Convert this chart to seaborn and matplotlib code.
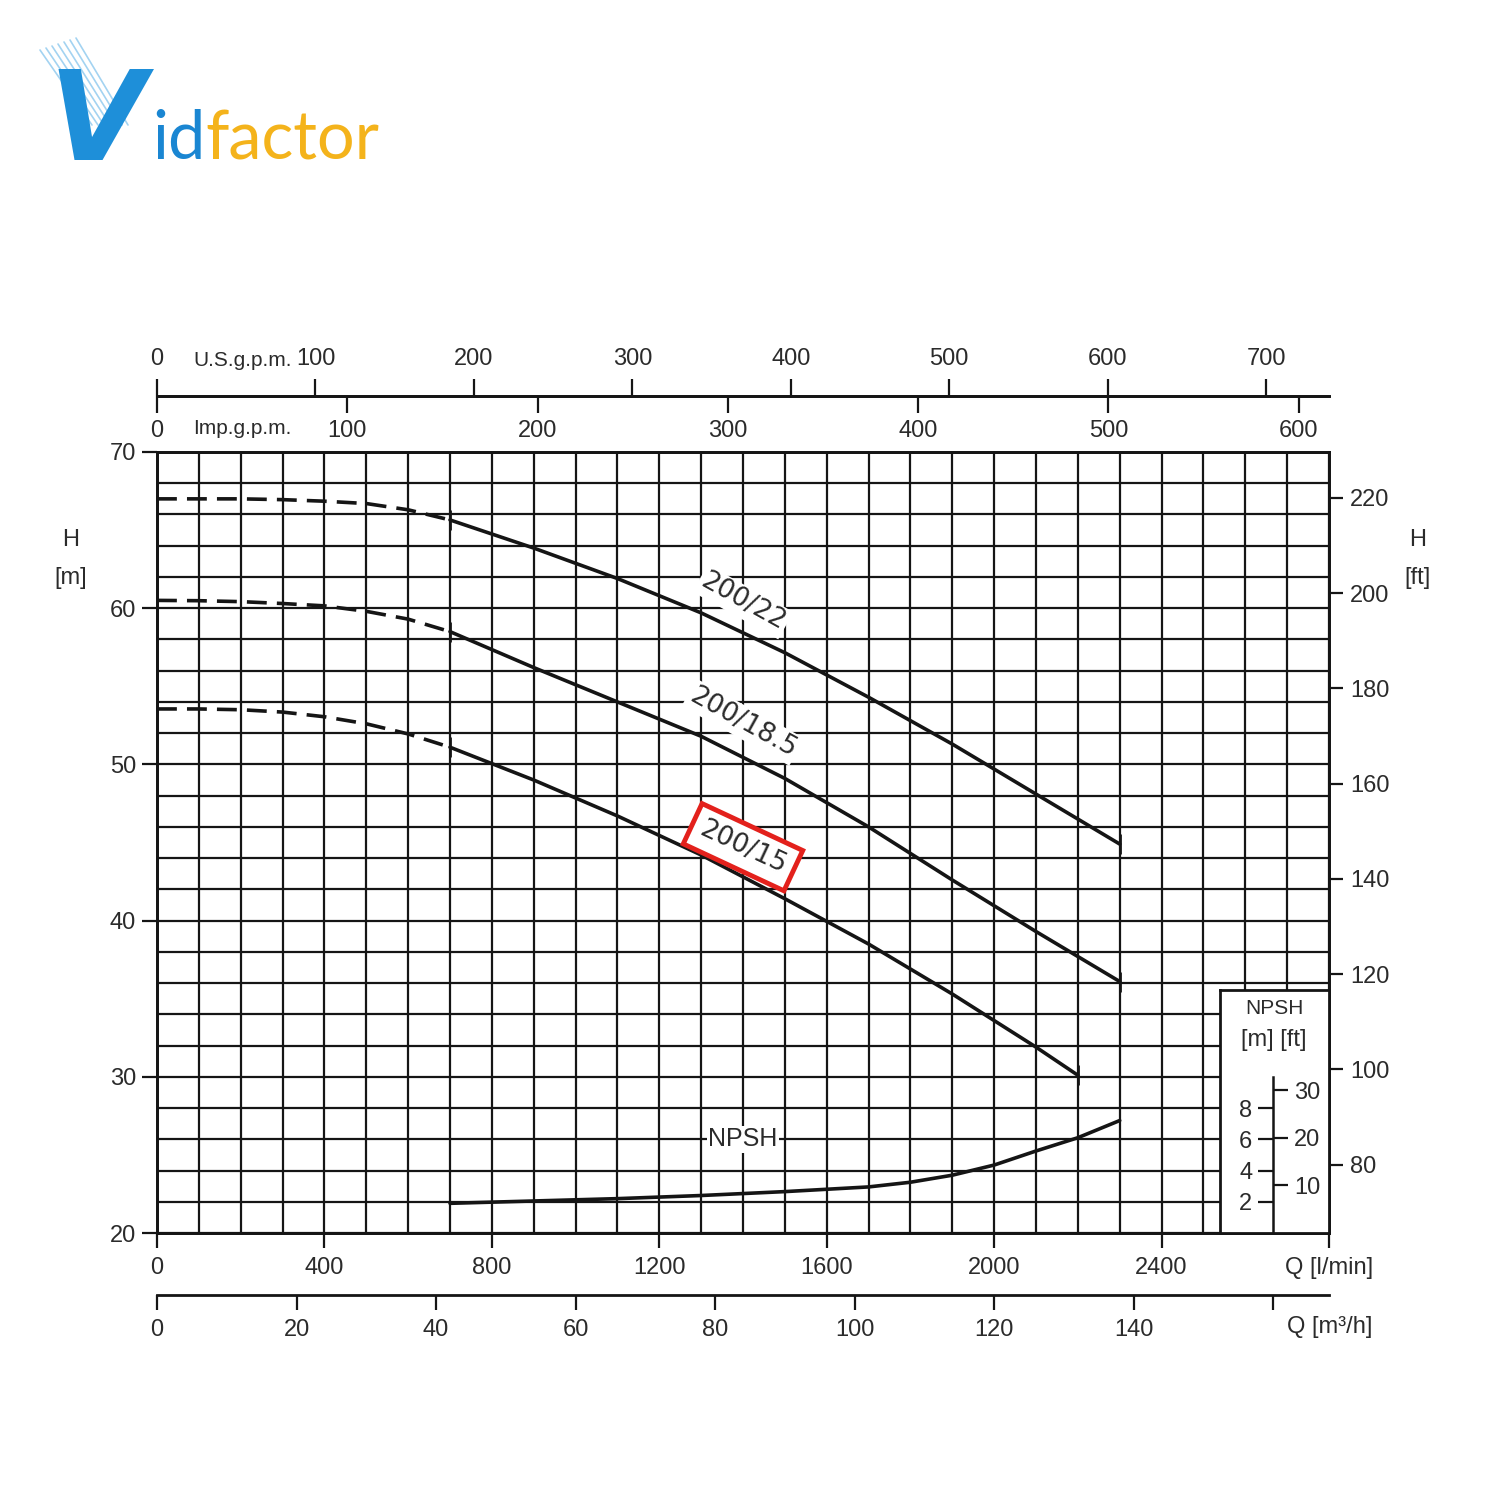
import matplotlib
matplotlib.use('Agg')
import matplotlib.pyplot as plt
import seaborn as sns
from matplotlib.ticker import MultipleLocator
from matplotlib.lines import Line2D

# --- data (flow Q in l/min, head H in m) ---
q_dash = [0, 100, 200, 300, 400, 500, 600, 700]
q_solid = [700, 900, 1100, 1300, 1500, 1700, 1900, 2100, 2300]
q_solid_15 = [700, 900, 1100, 1300, 1500, 1700, 1900, 2100, 2200]

h22_dash = [67.0, 67.0, 67.0, 66.95, 66.85, 66.7, 66.3, 65.65]
h22 = [65.65, 63.85, 61.9, 59.7, 57.15, 54.3, 51.3, 48.1, 44.9]

h185_dash = [60.5, 60.48, 60.42, 60.3, 60.15, 59.8, 59.3, 58.5]
h185 = [58.5, 56.2, 54.0, 51.8, 49.1, 46.0, 42.6, 39.3, 36.1]

h15_dash = [53.55, 53.55, 53.5, 53.35, 53.05, 52.6, 51.95, 51.1]
h15 = [51.1, 49.0, 46.7, 44.2, 41.4, 38.5, 35.3, 31.9, 30.1]

curve_names = ['200/22', '200/18.5', '200/15']
label_q = [1400, 1400, 1400]
label_h = [60.4, 52.7, 44.7]

npsh_q = [700, 900, 1100, 1300, 1500, 1700, 1800, 1900, 2000, 2100, 2200, 2300]
npsh_m = [1.9, 2.05, 2.2, 2.4, 2.65, 2.95, 3.25, 3.7, 4.35, 5.25, 6.1, 7.2]

lmin_ticks = [0, 400, 800, 1200, 1600, 2000, 2400]
m3h_ticks = [0, 20, 40, 60, 80, 100, 120, 140]
usgpm_ticks = [0, 100, 200, 300, 400, 500, 600, 700]
impgpm_ticks = [0, 100, 200, 300, 400, 500, 600]
hm_ticks = [20, 30, 40, 50, 60, 70]
hft_ticks = [80, 100, 120, 140, 160, 180, 200, 220]
npsh_m_ticks = [2, 4, 6, 8]
npsh_ft_ticks = [10, 20, 30]

M2FT = 3.28084
LMIN_PER_M3H = 1000 / 60
LMIN_PER_USGPM = 3.78541
LMIN_PER_IMPGPM = 4.54609

INK = '#151515'
TXT = '#2b2b2b'
FS = 17

sns.set_theme(style='ticks')
plt.rcParams['font.family'] = ['Liberation Sans', 'DejaVu Sans']

fig = plt.figure(figsize=(15, 15), dpi=100)


def fx(px):
    return px / 1500


def fy(py):
    return 1 - py / 1500


# main chart box in pixels
L, R, T, B = 157, 1329, 452, 1233
ax = fig.add_axes([fx(L), fy(B), (R - L) / 1500, (B - T) / 1500])
ax.set_xlim(0, 2800)
ax.set_ylim(20, 70)

# grid every 100 l/min and every 2 m
ax.xaxis.set_minor_locator(MultipleLocator(100))
ax.yaxis.set_minor_locator(MultipleLocator(2))
ax.grid(which='both', color=INK, lw=1.6)
ax.set_axisbelow(True)
ax.tick_params(which='minor', length=0)

ax.set_xticks(lmin_ticks + [2800], labels=[str(t) for t in lmin_ticks] + ['Q [l/min]'])
ax.set_yticks(hm_ticks)
ax.tick_params(axis='x', which='major', direction='out', length=11, width=1.6,
               pad=6, labelsize=FS, color=INK, labelcolor=TXT)
ax.tick_params(axis='y', which='major', direction='out', length=11, width=1.6,
               pad=4, labelsize=FS, color=INK, labelcolor=TXT)
for s in ax.spines.values():
    s.set_color(INK)
    s.set_linewidth(2)

# right axis in feet
ax2 = ax.twinx()
ax2.set_ylim(20 * M2FT, 70 * M2FT)
ax2.set_yticks(hft_ticks)
ax2.tick_params(axis='y', direction='out', length=10, width=1.6, pad=5,
                labelsize=FS, color=INK, labelcolor=TXT)
for s in ax2.spines.values():
    s.set_color(INK)
    s.set_linewidth(2)

# m3/h axis below
sec_m3 = ax.secondary_xaxis(-62 / 781, functions=(lambda q: q / LMIN_PER_M3H,
                                                   lambda m: m * LMIN_PER_M3H))
sec_m3.set_xticks(m3h_ticks + [160], labels=[str(t) for t in m3h_ticks] + [''])
sec_m3.tick_params(direction='out', length=11, width=1.6, pad=6, labelsize=FS,
                   color=INK, labelcolor=TXT)
sec_m3.spines['bottom'].set_linewidth(2)
sec_m3.spines['bottom'].set_color(INK)

# gallon scales on top
top_loc = (B - 396) / (B - T)
sec_us = ax.secondary_xaxis(top_loc, functions=(lambda q: q / LMIN_PER_USGPM,
                                                lambda g: g * LMIN_PER_USGPM))
sec_us.set_xticks(usgpm_ticks)
sec_us.tick_params(direction='out', length=12, width=1.6, pad=7, labelsize=FS,
                   color=INK, labelcolor=TXT)
sec_us.spines['top'].set_linewidth(2)
sec_us.spines['top'].set_color(INK)

sec_imp = ax.secondary_xaxis(top_loc, functions=(lambda q: q / LMIN_PER_IMPGPM,
                                                 lambda g: g * LMIN_PER_IMPGPM))
sec_imp.set_alignment('bottom')
sec_imp.set_xticks(impgpm_ticks)
sec_imp.tick_params(direction='out', length=12, width=1.6, pad=5, labelsize=FS,
                    color=INK, labelcolor=TXT)
sec_imp.spines['bottom'].set_linewidth(2)
sec_imp.spines['bottom'].set_color(INK)

# pump curves
curves = [(h22_dash, q_solid, h22), (h185_dash, q_solid, h185), (h15_dash, q_solid_15, h15)]
for hd, qs, hs in curves:
    sns.lineplot(x=q_dash, y=hd, ax=ax, color=INK, lw=2.6, linestyle=(0, (5.5, 2.8)))
    sns.lineplot(x=qs, y=hs, ax=ax, color=INK, lw=2.6)
    ax.plot([qs[0], qs[-1]], [hs[0], hs[-1]], ls='none', marker='|', ms=14, mew=2, color=INK)

for i, name in enumerate(curve_names):
    if name == '200/15':
        box = dict(boxstyle='square,pad=0.35', fc='white', ec='#e3211c', lw=3.5)
        rot = -25
    else:
        box = dict(boxstyle='square,pad=0.1', fc='white', ec='none')
        rot = -29
    ax.text(label_q[i], label_h[i], name, rotation=rot, rotation_mode='anchor',
            ha='center', va='center', fontsize=19, color=TXT, family='DejaVu Sans',
            bbox=box, zorder=4)

# NPSH curve on its own scale (same m per pixel, zero at bottom)
ax_n = ax.twinx()
ax_n.set_ylim(0, 50)
ax_n.set_yticks([])
for s in ax_n.spines.values():
    s.set_visible(False)
sns.lineplot(x=npsh_q, y=npsh_m, ax=ax_n, color=INK, lw=2.6)
ax_n.text(1400, 6.0, 'NPSH', ha='center', va='center', fontsize=18, color=TXT,
          bbox=dict(boxstyle='square,pad=0.05', fc='white', ec='none'))

for a in (ax, ax2, ax_n):
    a.set_xlabel('')
    a.set_ylabel('')
ax.set_xlim(0, 2800)

# NPSH scale box
inset = fig.add_axes([fx(1220), fy(B), 109 / 1500, 243 / 1500], zorder=5)
inset.set_facecolor('white')
inset.set_xticks([])
inset.set_yticks([])
for s in inset.spines.values():
    s.set_color(INK)
    s.set_linewidth(2)
inset.text(0.5, 0.925, 'NPSH', transform=inset.transAxes, ha='center', va='center',
           fontsize=15, color=TXT)
inset.text(0.49, 0.795, '[m] [ft]', transform=inset.transAxes, ha='center', va='center',
           fontsize=FS, color=TXT)

sc = fig.add_axes([fx(1273), fy(B), 0.0001, 156 / 1500], zorder=6)
sc.set_ylim(0, 10)
sc.set_xticks([])
sc.set_yticks(npsh_m_ticks)
for k in ('top', 'bottom', 'right'):
    sc.spines[k].set_visible(False)
sc.spines['left'].set_linewidth(1.8)
sc.spines['left'].set_color(INK)
sc.tick_params(axis='y', direction='out', length=11, width=1.6, pad=4,
               labelsize=FS, color=INK, labelcolor=TXT)
sc_ft = sc.twinx()
sc_ft.set_ylim(0, 10 * M2FT)
sc_ft.set_yticks(npsh_ft_ticks)
for k in ('top', 'bottom', 'left', 'right'):
    sc_ft.spines[k].set_visible(False)
sc_ft.tick_params(axis='y', direction='out', length=11, width=1.6, pad=4,
                  labelsize=FS, color=INK, labelcolor=TXT)

# axis captions
fig.text(fx(193), fy(361), 'U.S.g.p.m.', ha='left', va='center', fontsize=15, color=TXT)
fig.text(fx(193), fy(429), 'Imp.g.p.m.', ha='left', va='center', fontsize=15, color=TXT)
fig.text(fx(1330), fy(1327), 'Q [m³/h]', ha='center', va='center', fontsize=FS, color=TXT)
fig.text(fx(71), fy(540), 'H', ha='center', va='center', fontsize=FS, color=TXT)
fig.text(fx(71), fy(578), '[m]', ha='center', va='center', fontsize=FS, color=TXT)
fig.text(fx(1418), fy(540), 'H', ha='center', va='center', fontsize=FS, color=TXT)
fig.text(fx(1418), fy(578), '[ft]', ha='center', va='center', fontsize=FS, color=TXT)

# logo
for k in range(7):
    fig.add_artist(Line2D([fx(40 + 6 * k), fx(92 + 6 * k)], [fy(50 - 2 * k), fy(125)],
                          color='#8cc8ee', lw=1.2, alpha=0.8))
fig.text(fx(48), fy(160), 'V', fontsize=90, fontweight='bold', style='italic',
         color='#1e8fd9', family='DejaVu Sans', va='baseline')
t_id = fig.text(fx(152), fy(171), 'id', fontsize=48, color='#1a86d2', family='Lato',
                va='bottom')
ax.annotate('factor', xy=(1, 0), xycoords=t_id, ha='left', va='bottom',
            fontsize=48, color='#f4b31b', family='Lato', annotation_clip=False)

fig.savefig('out.png', dpi=100, facecolor='white')
